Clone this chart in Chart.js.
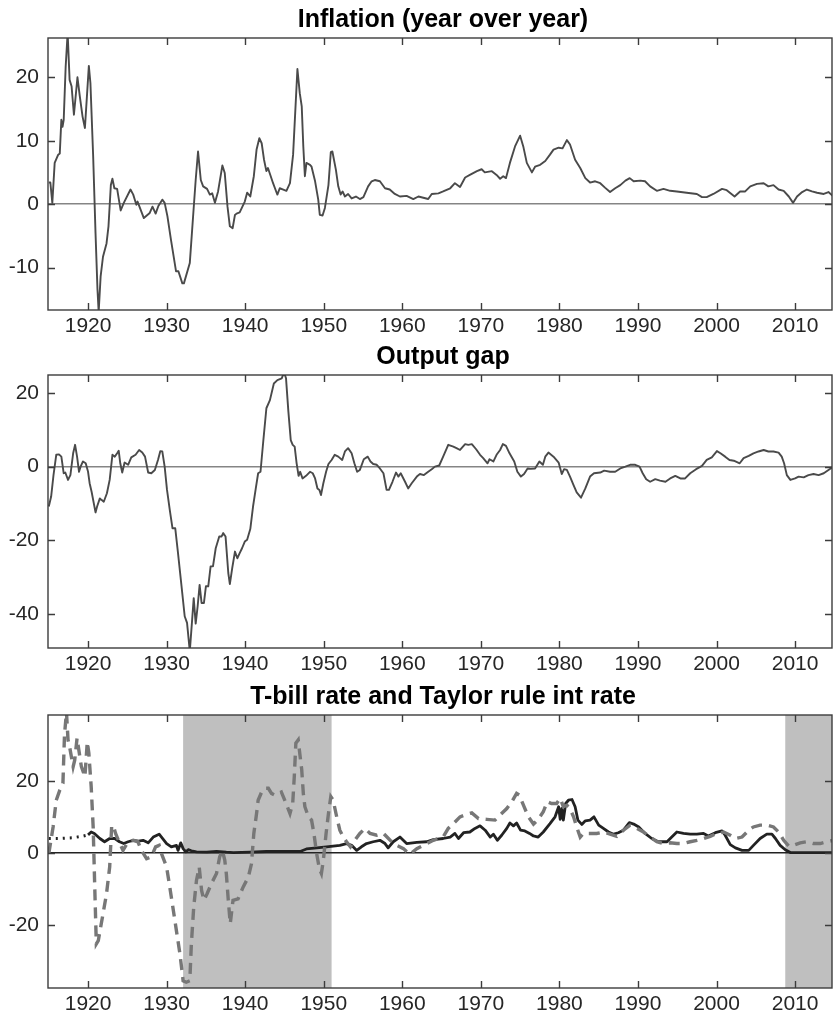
<!DOCTYPE html>
<html>
<head>
<meta charset="utf-8">
<script src="https://cdn.jsdelivr.net/npm/chart.js@4.4.1/dist/chart.umd.min.js"></script>
<style>
  body { margin: 0; background: #fff; }
  #wrap { position: relative; width: 833px; height: 1016px; overflow: hidden; }
  canvas { position: absolute; left: 0; }
</style>
</head>
<body>
<div id="wrap">
  <canvas id="c1" width="833" height="336" style="top:0px"></canvas>
  <canvas id="c2" width="833" height="338" style="top:336px"></canvas>
  <canvas id="c3" width="833" height="340" style="top:674px"></canvas>
</div>
<script>
// panel titles
var panelTitles = ["Inflation (year over year)", "Output gap", "T-bill rate and Taylor rule int rate"];

// x axis (years)
var yearMin = 1914.9;
var yearMax = 2014.7;

// inflation, year over year
var inflYears = [1915.0, 1915.2, 1915.45, 1915.75, 1916.2, 1916.4, 1916.6, 1916.75, 1916.9, 1917.15, 1917.4, 1917.65, 1917.9, 1918.2, 1918.65, 1918.95, 1919.3, 1919.6, 1920.1, 1920.3, 1920.65, 1920.95, 1921.2, 1921.35, 1921.6, 1921.9, 1922.35, 1922.6, 1922.9, 1923.1, 1923.35, 1923.7, 1924.15, 1924.55, 1925.4, 1925.75, 1925.95, 1926.15, 1926.3, 1927.1, 1927.85, 1928.2, 1928.6, 1928.95, 1929.45, 1929.75, 1930.1, 1930.55, 1931.2, 1931.5, 1932.0, 1932.2, 1932.95, 1933.4, 1933.7, 1934.0, 1934.35, 1934.65, 1935.15, 1935.5, 1935.8, 1936.15, 1936.55, 1937.1, 1937.4, 1937.75, 1938.05, 1938.4, 1938.7, 1938.9, 1939.3, 1939.95, 1940.25, 1940.65, 1941.1, 1941.45, 1941.8, 1942.1, 1942.4, 1942.7, 1942.9, 1943.2, 1943.55, 1943.85, 1944.1, 1944.4, 1944.85, 1945.25, 1945.7, 1946.1, 1946.65, 1946.95, 1947.2, 1947.4, 1947.6, 1947.8, 1948.25, 1948.45, 1948.9, 1949.3, 1949.5, 1949.85, 1950.15, 1950.6, 1950.9, 1951.1, 1951.55, 1951.85, 1952.15, 1952.4, 1952.7, 1953.1, 1953.55, 1954.1, 1954.6, 1955.05, 1955.65, 1956.1, 1956.5, 1957.15, 1957.8, 1958.4, 1959.05, 1959.7, 1960.55, 1961.4, 1962.05, 1963.3, 1963.75, 1964.6, 1965.2, 1966.1, 1966.7, 1967.35, 1968.0, 1968.6, 1969.5, 1970.1, 1970.5, 1971.4, 1972.0, 1972.45, 1972.85, 1973.2, 1973.7, 1974.35, 1975.0, 1975.4, 1975.85, 1976.5, 1976.9, 1977.55, 1978.2, 1978.8, 1979.25, 1979.9, 1980.4, 1980.95, 1981.35, 1982.0, 1982.65, 1983.3, 1983.9, 1984.55, 1985.2, 1985.8, 1986.45, 1987.1, 1987.75, 1988.4, 1988.95, 1989.45, 1990.3, 1990.9, 1991.55, 1992.4, 1993.25, 1994.1, 1994.95, 1996.2, 1997.5, 1998.15, 1998.75, 1999.6, 2000.7, 2001.3, 2002.3, 2003.0, 2003.65, 2004.3, 2005.15, 2006.0, 2006.6, 2007.25, 2007.9, 2008.55, 2009.2, 2009.75, 2010.25, 2010.9, 2011.5, 2012.15, 2012.8, 2013.65, 2014.25, 2014.9];
var inflValues = [3.4, 3.4, 0.2, 6.5, 7.8, 8.0, 13.3, 12.2, 13.3, 21.7, 27.0, 19.6, 18.6, 14.1, 20.0, 17.0, 13.8, 12.0, 21.8, 19.1, 7.5, -4.6, -13.5, -17.0, -11.4, -8.3, -6.2, -3.5, 3.0, 4.0, 2.5, 2.4, -1.0, 0.2, 2.3, 1.5, 0.7, -0.1, 0.4, -2.2, -1.4, -0.4, -1.5, -0.3, 0.7, 0.2, -1.9, -5.6, -10.6, -10.6, -12.5, -12.5, -9.3, -1.4, 3.8, 8.3, 3.8, 2.8, 2.4, 1.5, 1.7, 0.2, 2.0, 6.1, 4.9, -0.4, -3.5, -3.8, -1.7, -1.5, -1.3, 0.4, 1.8, 1.2, 4.4, 8.6, 10.4, 9.6, 7.0, 5.2, 5.7, 4.6, 3.3, 2.3, 1.5, 2.5, 2.3, 2.1, 3.3, 7.8, 21.3, 17.5, 15.4, 9.1, 4.4, 6.5, 6.2, 5.9, 3.6, 0.7, -1.7, -1.8, -0.6, 3.0, 8.2, 8.3, 5.4, 2.8, 1.5, 2.0, 1.2, 1.6, 0.9, 1.2, 0.8, 1.1, 2.8, 3.6, 3.8, 3.6, 2.5, 2.3, 1.6, 1.2, 1.3, 0.8, 1.2, 0.8, 1.6, 1.7, 2.0, 2.5, 3.3, 2.7, 4.2, 4.6, 5.2, 5.5, 5.0, 5.2, 4.6, 4.0, 4.4, 4.1, 6.5, 9.1, 10.8, 9.1, 6.5, 5.0, 5.9, 6.2, 6.8, 7.8, 8.6, 8.9, 8.8, 10.1, 9.4, 7.0, 5.7, 4.1, 3.4, 3.6, 3.3, 2.6, 1.9, 2.5, 3.0, 3.7, 4.1, 3.6, 3.7, 3.6, 2.8, 2.1, 2.4, 2.1, 2.0, 1.8, 1.6, 1.1, 1.1, 1.6, 2.4, 2.2, 1.2, 2.0, 2.0, 2.8, 3.2, 3.3, 2.8, 3.0, 2.3, 2.1, 1.2, 0.2, 1.2, 1.9, 2.3, 2.0, 1.8, 1.6, 1.9, 1.2];

// output gap
var gapYears = [1915.0, 1915.3, 1915.6, 1915.95, 1916.3, 1916.6, 1916.9, 1917.1, 1917.45, 1917.75, 1918.1, 1918.35, 1918.6, 1918.85, 1919.05, 1919.35, 1919.7, 1920.0, 1920.2, 1920.45, 1920.95, 1921.15, 1921.5, 1921.7, 1922.0, 1922.4, 1922.75, 1923.1, 1923.4, 1923.7, 1923.9, 1924.1, 1924.35, 1924.65, 1925.1, 1925.5, 1926.05, 1926.5, 1926.9, 1927.25, 1927.65, 1928.05, 1928.5, 1928.9, 1929.2, 1929.45, 1929.75, 1930.05, 1930.4, 1930.75, 1931.1, 1931.45, 1931.9, 1932.3, 1932.6, 1932.95, 1933.25, 1933.45, 1933.7, 1933.95, 1934.2, 1934.45, 1934.75, 1935.0, 1935.3, 1935.6, 1935.9, 1936.25, 1936.7, 1937.0, 1937.2, 1937.5, 1937.85, 1938.05, 1938.35, 1938.7, 1939.0, 1939.3, 1939.6, 1939.95, 1940.25, 1940.65, 1941.0, 1941.35, 1941.65, 1941.95, 1942.3, 1942.7, 1943.15, 1943.65, 1944.1, 1944.65, 1944.95, 1945.2, 1945.5, 1945.8, 1946.05, 1946.3, 1946.55, 1946.8, 1947.0, 1947.3, 1947.75, 1948.25, 1948.6, 1948.9, 1949.2, 1949.45, 1949.65, 1949.95, 1950.3, 1950.6, 1951.0, 1951.4, 1951.85, 1952.35, 1952.7, 1953.1, 1953.55, 1953.9, 1954.25, 1954.6, 1955.1, 1955.6, 1955.95, 1956.3, 1956.75, 1957.15, 1957.6, 1958.0, 1958.3, 1958.75, 1959.2, 1959.5, 1959.8, 1960.35, 1960.75, 1961.2, 1961.85, 1962.25, 1962.75, 1963.3, 1963.75, 1964.15, 1964.7, 1965.2, 1965.85, 1966.5, 1966.9, 1967.35, 1968.0, 1968.4, 1968.85, 1969.4, 1969.9, 1970.3, 1970.85, 1971.1, 1971.6, 1972.0, 1972.45, 1972.8, 1973.2, 1973.65, 1974.25, 1974.65, 1975.1, 1975.5, 1975.95, 1976.35, 1976.9, 1977.45, 1977.9, 1978.2, 1978.6, 1979.25, 1979.9, 1980.3, 1980.6, 1980.95, 1981.35, 1981.8, 1982.2, 1982.75, 1983.3, 1983.9, 1984.4, 1985.2, 1985.7, 1986.45, 1987.1, 1987.75, 1988.4, 1989.0, 1989.65, 1990.2, 1990.6, 1991.05, 1991.55, 1992.2, 1992.8, 1993.5, 1994.1, 1994.75, 1995.4, 1996.0, 1996.65, 1997.4, 1998.15, 1998.75, 1999.4, 2000.05, 2000.5, 2001.1, 2001.65, 2002.2, 2002.95, 2003.45, 2004.1, 2004.7, 2005.35, 2006.0, 2006.6, 2007.25, 2007.9, 2008.3, 2008.6, 2008.95, 2009.4, 2010.0, 2010.45, 2011.1, 2011.7, 2012.35, 2013.0, 2013.65, 2014.25, 2014.9];
var gapValues = [-10.8, -8.1, -2.3, 3.2, 3.3, 2.7, -1.8, -1.6, -3.6, -2.3, 3.6, 5.9, 2.7, -1.4, 0, 1.4, 0.9, -1.4, -4.5, -6.8, -12.4, -10.8, -8.6, -9.0, -9.5, -7.2, -3.6, 3.2, 2.7, 3.6, 4.3, 0.9, -1.6, 1.1, 0.5, 2.5, 3.2, 4.5, 3.8, 2.7, -1.6, -1.8, -0.9, 1.8, 4.2, 4.1, 0, -6.3, -11.7, -16.7, -16.7, -23.4, -32.4, -40.5, -42.3, -50.0, -41.4, -35.6, -42.5, -37.8, -32.0, -36.9, -36.9, -32.4, -32.4, -27.0, -27.0, -22.1, -18.9, -18.9, -18.0, -18.9, -28.8, -31.8, -27.5, -23.0, -24.8, -23.4, -22.1, -20.3, -19.8, -16.9, -10.8, -5.9, -1.8, -1.4, 6.8, 15.8, 18.0, 22.5, 23.4, 23.9, 25.5, 23.9, 14.9, 7.2, 5.9, 5.4, 0.9, -2.5, -1.4, -3.2, -2.5, -1.4, -1.8, -3.2, -5.9, -6.3, -7.7, -4.5, -1.4, 0.7, 1.8, 3.2, 2.7, 1.8, 4.1, 5.0, 3.6, 0.9, -1.4, -0.9, 2.0, 2.7, 1.4, 0.7, 0.5, -0.5, -1.8, -6.3, -6.3, -4.1, -1.6, -2.7, -1.8, -4.1, -5.9, -4.5, -2.7, -2.0, -2.3, -1.4, -0.7, 0, 0.3, 2.7, 5.9, 5.4, 5.0, 4.5, 6.1, 5.9, 6.1, 4.7, 3.2, 2.3, 0.9, 2.0, 1.4, 3.2, 4.5, 6.1, 5.6, 3.6, 1.4, -1.4, -2.7, -2.0, -0.5, -0.6, -0.5, 1.4, 0.5, 2.7, 3.8, 2.7, 1.1, -2.0, -0.7, -0.9, -2.7, -5.0, -7.0, -8.4, -5.9, -2.7, -1.8, -1.6, -1.1, -1.4, -1.4, -0.5, 0, 0.5, 0.5, 0, -1.8, -3.4, -4.1, -3.4, -3.8, -4.1, -3.2, -2.5, -3.2, -3.2, -1.8, -0.7, 0.2, 1.8, 2.5, 4.2, 3.6, 2.7, 1.8, 1.6, 0.9, 2.3, 2.9, 3.6, 4.1, 4.5, 4.1, 4.1, 3.8, 2.7, 0.9, -2.3, -3.6, -3.2, -2.7, -2.9, -2.3, -2.0, -2.3, -1.8, -0.9, 0];

// T-bill rate (dotted before 1920)
var tbillEarlyYears = [1915.0, 1916.5, 1918.0, 1919.2, 1920.0];
var tbillEarlyValues = [4.0, 4.0, 4.2, 4.6, 5.0];
var tbillYears = [1920.0, 1920.4, 1920.8, 1921.5, 1922.1, 1922.75, 1923.4, 1924.0, 1924.55, 1925.1, 1925.75, 1926.4, 1927.0, 1927.65, 1928.3, 1929.05, 1929.35, 1930.0, 1930.6, 1931.25, 1931.45, 1931.8, 1932.1, 1932.45, 1932.75, 1933.15, 1933.8, 1935.1, 1936.35, 1937.6, 1938.5, 1940.6, 1942.7, 1944.85, 1947.0, 1947.8, 1949.1, 1950.35, 1951.2, 1952.05, 1952.9, 1953.55, 1954.2, 1954.8, 1955.45, 1956.3, 1957.15, 1957.8, 1958.2, 1958.85, 1959.7, 1960.55, 1961.85, 1963.1, 1963.95, 1965.2, 1966.1, 1966.7, 1967.15, 1967.8, 1968.6, 1969.25, 1969.9, 1970.55, 1971.2, 1971.6, 1972.1, 1972.65, 1973.3, 1973.7, 1974.15, 1974.55, 1975.05, 1975.6, 1976.2, 1976.7, 1977.3, 1977.95, 1978.8, 1979.45, 1979.9, 1980.1, 1980.3, 1980.5, 1980.8, 1981.15, 1981.6, 1982.0, 1982.35, 1982.85, 1983.3, 1983.9, 1984.4, 1985.0, 1985.6, 1986.25, 1986.9, 1987.5, 1988.15, 1988.9, 1989.45, 1990.1, 1990.9, 1991.75, 1992.6, 1993.7, 1994.3, 1994.95, 1995.8, 1996.65, 1997.5, 1998.35, 1998.95, 1999.85, 2000.7, 2001.1, 2001.75, 2002.4, 2003.25, 2004.1, 2004.7, 2005.55, 2006.4, 2007.05, 2007.5, 2008.1, 2008.75, 2009.4, 2010.65, 2012.8, 2014.9];
var tbillValues = [5.0, 5.8, 5.4, 4.0, 3.1, 4.0, 4.0, 3.1, 2.6, 3.1, 3.5, 3.3, 3.5, 2.8, 4.4, 5.2, 4.4, 2.6, 1.7, 2.1, 0.7, 2.8, 1.2, 0.3, 0.9, 0.6, 0.3, 0.2, 0.4, 0.2, 0.1, 0.2, 0.4, 0.4, 0.4, 1.1, 1.4, 1.7, 1.9, 2.1, 2.6, 2.1, 0.7, 1.7, 2.6, 3.1, 3.5, 2.6, 1.4, 3.1, 4.4, 2.6, 2.9, 3.1, 3.7, 4.0, 4.4, 5.4, 4.0, 5.6, 5.8, 6.8, 7.5, 6.3, 4.4, 5.2, 3.5, 4.9, 6.8, 8.3, 7.5, 8.3, 6.3, 6.1, 5.4, 4.7, 4.4, 5.8, 8.1, 10.0, 12.8, 9.3, 12.3, 9.1, 13.7, 14.6, 14.8, 12.8, 9.1, 7.9, 8.9, 9.1, 10.0, 7.7, 6.8, 5.8, 5.2, 5.6, 6.3, 8.4, 8.0, 7.2, 5.4, 4.0, 3.1, 3.1, 4.4, 5.8, 5.4, 5.2, 5.2, 5.4, 4.7, 5.6, 6.1, 4.9, 2.3, 1.4, 0.7, 0.7, 2.1, 4.0, 5.2, 5.2, 4.0, 2.1, 0.9, 0.1, 0.1, 0.1, 0.1];

// Taylor rule interest rate
var taylorYears = [1915.0, 1915.55, 1915.95, 1916.4, 1916.8, 1917.0, 1917.25, 1917.45, 1917.65, 1918.1, 1918.3, 1918.6, 1918.95, 1919.15, 1919.6, 1919.9, 1920.1, 1920.4, 1920.65, 1920.85, 1921.05, 1921.3, 1921.6, 1921.9, 1922.35, 1922.75, 1923.0, 1923.2, 1923.5, 1923.95, 1924.45, 1925.1, 1925.75, 1926.35, 1926.8, 1927.45, 1928.05, 1928.6, 1929.05, 1929.35, 1930.0, 1930.4, 1931.05, 1931.7, 1932.1, 1932.5, 1932.95, 1933.15, 1933.45, 1933.8, 1934.15, 1934.45, 1934.75, 1935.15, 1935.7, 1936.35, 1936.75, 1937.1, 1937.4, 1937.6, 1937.85, 1938.1, 1938.45, 1939.1, 1939.75, 1940.4, 1940.8, 1941.1, 1941.45, 1941.65, 1942.1, 1942.5, 1942.95, 1943.35, 1943.8, 1944.2, 1944.6, 1945.2, 1945.7, 1946.05, 1946.25, 1946.45, 1946.75, 1947.05, 1947.2, 1947.4, 1947.6, 1948.05, 1948.45, 1948.75, 1949.1, 1949.45, 1949.7, 1949.95, 1950.3, 1950.6, 1950.9, 1951.2, 1951.65, 1952.05, 1952.5, 1952.9, 1953.4, 1953.95, 1954.6, 1955.25, 1955.9, 1956.75, 1957.6, 1958.45, 1959.3, 1960.15, 1960.95, 1961.85, 1962.7, 1963.95, 1965.2, 1965.85, 1966.5, 1967.35, 1968.2, 1968.85, 1969.7, 1970.75, 1971.8, 1972.45, 1973.3, 1973.95, 1974.55, 1974.9, 1975.5, 1976.05, 1976.7, 1977.3, 1977.95, 1978.45, 1979.0, 1979.65, 1980.1, 1980.5, 1980.95, 1981.35, 1981.8, 1982.2, 1982.65, 1983.05, 1983.9, 1984.75, 1985.6, 1986.45, 1987.3, 1988.15, 1989.0, 1989.85, 1990.7, 1991.55, 1992.4, 1993.25, 1994.1, 1994.95, 1995.8, 1996.65, 1997.5, 1998.35, 1999.2, 2000.05, 2000.9, 2001.75, 2002.4, 2003.25, 2004.1, 2004.7, 2005.55, 2006.4, 2007.25, 2007.9, 2008.55, 2009.2, 2009.8, 2010.65, 2011.5, 2012.35, 2013.2, 2014.05, 2014.9];
var taylorValues = [-0.2, 7.2, 14.6, 17.4, 19.3, 32.7, 39.0, 31.3, 29.4, 23.9, 25.7, 31.8, 26.7, 23.9, 21.1, 30.8, 27.6, 18.3, 7.2, -9.4, -25.2, -24.3, -20.6, -16.9, -11.3, -3.9, 7.2, 7.7, 5.4, 3.1, 0.7, 3.1, 3.5, 3.1, 0.7, -1.6, -1.1, 1.7, 2.1, -0.2, -3.9, -9.4, -18.7, -28.0, -35.4, -35.8, -35.4, -25.2, -15.0, -7.6, -3.9, -10.4, -13.1, -11.3, -8.5, -5.7, -1.1, 0.7, -2.0, -5.7, -13.1, -19.6, -13.1, -12.7, -9.4, -6.7, -3.0, 5.4, 10.9, 14.6, 16.9, 17.9, 17.9, 16.5, 16.0, 16.5, 16.9, 13.7, 10.9, 13.7, 21.1, 30.4, 31.3, 25.7, 23.0, 16.5, 12.8, 10.0, 9.1, 5.4, -0.2, -4.4, -5.7, -2.0, 5.4, 10.9, 15.6, 14.6, 10.0, 6.3, 4.4, 3.1, 1.7, 3.5, 5.4, 6.8, 5.4, 4.9, 5.4, 3.5, 2.1, 1.2, -0.4, 1.2, 2.1, 3.5, 4.4, 6.8, 8.1, 10.0, 10.7, 11.1, 9.5, 9.3, 9.1, 10.5, 12.3, 14.2, 16.5, 16.0, 12.8, 10.0, 8.0, 9.3, 11.4, 14.2, 13.7, 13.7, 15.1, 12.8, 13.2, 12.3, 10.0, 7.2, 4.4, 5.4, 5.4, 5.4, 5.8, 5.2, 4.6, 6.3, 7.7, 6.8, 5.8, 4.4, 3.1, 2.6, 2.8, 2.6, 2.6, 3.1, 3.5, 4.0, 4.6, 5.4, 5.8, 4.9, 4.0, 4.4, 6.3, 7.2, 7.7, 7.7, 7.2, 5.8, 3.5, 1.9, 2.1, 2.8, 3.1, 2.6, 2.6, 3.1, 3.5];

// shaded periods (start, end)
var shadeStarts = [1932.1, 2008.75];
var shadeEnds = [1951.0, 2016];

var fontFamily = '"Liberation Sans", Arial, Helvetica, sans-serif';

function toPoints(xs, ys) {
  var pts = [];
  for (var i = 0; i < xs.length; i++) {
    pts.push({ x: xs[i], y: ys[i] });
  }
  return pts;
}

// matlab-like box: shading, frame, inward ticks, title over the axes
var matlabAxes = {
  id: "matlabAxes",
  beforeDraw: function (chart, args, opts) {
    var ctx = chart.ctx;
    var a = chart.chartArea;
    var x = chart.scales.x;
    var starts = opts.shadeStarts || [];
    var ends = opts.shadeEnds || [];
    ctx.save();
    ctx.fillStyle = "#bfbfbf";
    for (var i = 0; i < starts.length; i++) {
      var x0 = Math.max(x.getPixelForValue(starts[i]), a.left);
      var x1 = Math.min(x.getPixelForValue(ends[i]), a.right);
      ctx.fillRect(x0, a.top, x1 - x0, a.bottom - a.top);
    }
    ctx.restore();
  },
  afterDraw: function (chart, args, opts) {
    var ctx = chart.ctx;
    var a = chart.chartArea;
    var x = chart.scales.x;
    var y = chart.scales.y;
    ctx.save();
    ctx.strokeStyle = "#3c3c3c";
    ctx.lineWidth = 1.4;
    ctx.beginPath();
    x.ticks.forEach(function (t) {
      var px = Math.round(x.getPixelForValue(t.value)) + 0.5;
      ctx.moveTo(px, a.bottom);
      ctx.lineTo(px, a.bottom - 7);
      ctx.moveTo(px, a.top);
      ctx.lineTo(px, a.top + 7);
    });
    y.ticks.forEach(function (t) {
      var py = Math.round(y.getPixelForValue(t.value)) + 0.5;
      ctx.moveTo(a.left, py);
      ctx.lineTo(a.left + 7, py);
      ctx.moveTo(a.right, py);
      ctx.lineTo(a.right - 7, py);
    });
    ctx.stroke();
    ctx.strokeRect(a.left, a.top, a.right - a.left, a.bottom - a.top);
    ctx.fillStyle = "#000";
    ctx.font = "bold 25px " + fontFamily;
    ctx.textAlign = "center";
    ctx.textBaseline = "alphabetic";
    ctx.fillText(opts.title, (a.left + a.right) / 2 + 3, a.top - 11.5);
    ctx.restore();
  }
};

function makeChart(id, datasets, yMin, yMax, yStep, zeroColor, padTop, title, shaded) {
  return new Chart(document.getElementById(id), {
    type: "line",
    data: { datasets: datasets },
    options: {
      responsive: false,
      animation: false,
      devicePixelRatio: 1,
      layout: { padding: { top: padTop, right: 1, left: 0, bottom: 0 } },
      plugins: {
        legend: { display: false },
        tooltip: { enabled: false },
        matlabAxes: {
          title: title,
          shadeStarts: shaded ? shadeStarts : [],
          shadeEnds: shaded ? shadeEnds : []
        }
      },
      elements: { point: { radius: 0 }, line: { tension: 0 } },
      scales: {
        x: {
          type: "linear",
          min: yearMin,
          max: yearMax,
          grid: { display: false, drawTicks: false },
          border: { display: false },
          ticks: {
            stepSize: 10,
            includeBounds: false,
            maxRotation: 0,
            padding: 4,
            color: "#262626",
            font: { family: fontFamily, size: 21 },
            callback: function (v) { return String(v); }
          },
          afterFit: function (s) { s.height = 26; }
        },
        y: {
          min: yMin,
          max: yMax,
          grid: {
            drawTicks: false,
            lineWidth: 1.6,
            color: function (c) { return c.tick && c.tick.value === 0 ? zeroColor : "rgba(0,0,0,0)"; }
          },
          border: { display: false },
          ticks: {
            stepSize: yStep,
            includeBounds: false,
            padding: 9,
            color: "#262626",
            font: { family: fontFamily, size: 21 },
            callback: function (v) { return String(v); }
          },
          afterFit: function (s) { s.width = 48; }
        }
      }
    },
    plugins: [matlabAxes]
  });
}

makeChart("c1", [
  { data: toPoints(inflYears, inflValues), borderColor: "#4a4a4a", borderWidth: 1.9, borderJoinStyle: "round" }
], -16.7, 26.2, 10, "#858585", 38, panelTitles[0], false);

makeChart("c2", [
  { data: toPoints(gapYears, gapValues), borderColor: "#4a4a4a", borderWidth: 1.9, borderJoinStyle: "round" }
], -49.1, 24.8, 20, "#858585", 39, panelTitles[1], false);

makeChart("c3", [
  { data: toPoints(taylorYears, taylorValues), borderColor: "#777777", borderWidth: 3.4, borderDash: [11, 7] },
  { data: toPoints(tbillEarlyYears, tbillEarlyValues), borderColor: "#222222", borderWidth: 3, borderDash: [2, 5] },
  { data: toPoints(tbillYears, tbillValues), borderColor: "#222222", borderWidth: 2.8, borderJoinStyle: "round" }
], -37.4, 38.2, 20, "#222222", 41, panelTitles[2], true);
</script>
</body>
</html>
